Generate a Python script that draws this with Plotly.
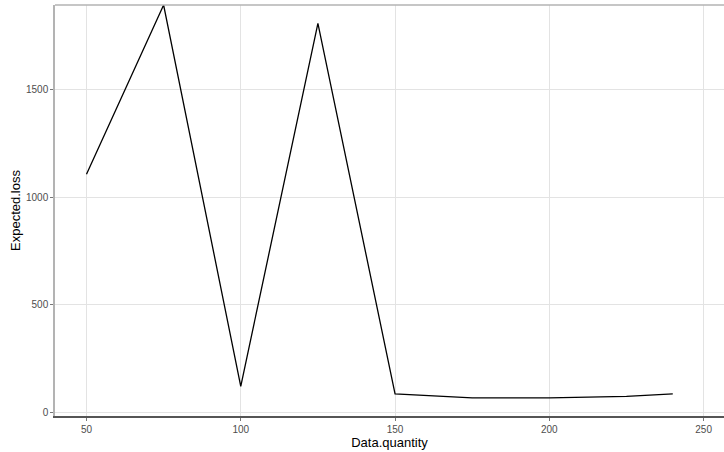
import plotly.graph_objects as go

data_quantity = [50, 75, 100, 125, 150, 175, 200, 225, 240]
expected_loss = [1107, 1893, 122, 1808, 87, 68, 68, 75, 87]

x_ticks = [50, 100, 150, 200, 250]
y_ticks = [0, 500, 1000, 1500]

fig = go.Figure()
fig.add_trace(go.Scatter(
    x=data_quantity, y=expected_loss, mode="lines",
    line=dict(color="black", width=1.3), showlegend=False,
))

font_family = "Liberation Sans, Arial, sans-serif"
fig.update_layout(
    width=724, height=452,
    margin=dict(l=55, r=0, t=5, b=36),
    paper_bgcolor="white", plot_bgcolor="white",
    font=dict(family=font_family, color="#4d4d4d", size=10),
    xaxis=dict(
        range=[39.8, 256.6], tickvals=x_ticks, ticktext=[str(v) for v in x_ticks],
        showgrid=True, gridcolor="#e3e3e3", gridwidth=1, zeroline=False,
        showline=True, linecolor="#555555", linewidth=2,
        ticks="outside", ticklen=3, tickcolor="#777777", tickwidth=1,
        tickfont=dict(size=10, color="#4d4d4d"),
        title=dict(text="Data.quantity", font=dict(size=13, color="black"), standoff=1),
    ),
    yaxis=dict(
        range=[-16, 1893], tickvals=y_ticks, ticktext=[str(v) for v in y_ticks],
        showgrid=True, gridcolor="#e3e3e3", gridwidth=1, zeroline=False,
        showline=True, linecolor="#b3b3b3", linewidth=1.5,
        ticks="outside", ticklen=3, tickcolor="#777777", tickwidth=1,
        tickfont=dict(size=10, color="#4d4d4d"),
        title=dict(text="Expected.loss", font=dict(size=13, color="black"), standoff=2),
    ),
    shapes=[dict(type="line", xref="paper", yref="paper", x0=0, x1=1, y0=1, y1=1,
                 line=dict(color="#b3b3b3", width=1.5))],
)

fig.write_html("out.html", config={"displayModeBar": False},
               post_script="document.body.style.margin='0';document.body.style.overflow='hidden';")
